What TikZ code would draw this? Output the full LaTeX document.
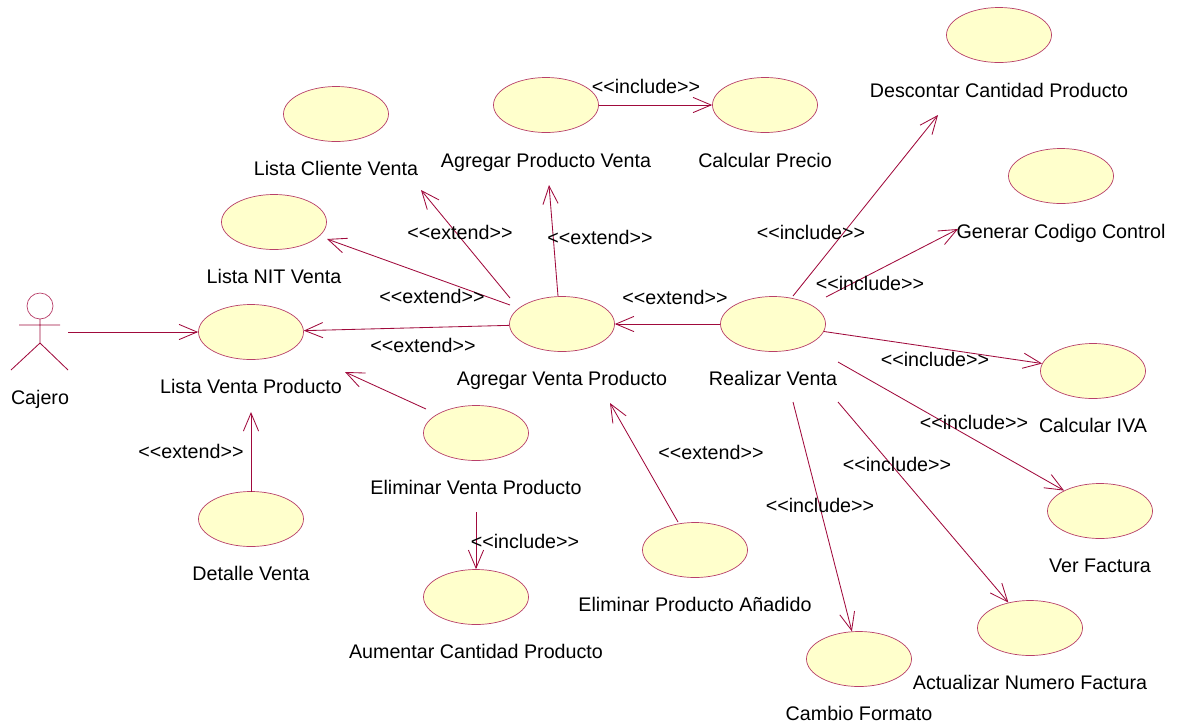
\documentclass[tikz,border=0pt]{standalone}
\usepackage{fontspec}
\setmainfont{Liberation Sans}
\usetikzlibrary{shapes.geometric, arrows.meta}
\definecolor{trait}{HTML}{A00A3C}
\definecolor{bord}{HTML}{B8406A}
\definecolor{fond}{HTML}{FFFFCC}
\newcommand{\stereo}[1]{<{}<#1>{}>}
\tikzset{
  caso/.style={ellipse,draw=bord,fill=fond,line width=0.5pt,inner sep=0pt,
      minimum width=2.625cm,minimum height=1.375cm},
  rotulo/.style={inner sep=0pt,text height=10pt,text depth=0pt,
      font=\fontsize{14}{16}\selectfont},
  enlace/.style={trait,line width=0.6pt,
      -{Straight Barb[length=0.45cm,width=0.38cm,line width=0.6pt]}}
}

\begin{document}
\begin{tikzpicture}[x=0.025cm,y=-0.025cm]
  \useasboundingbox (0,0) rectangle (1180,726);
  % El actor
  \draw[bord,line width=0.5pt] (40,306) circle [radius=13];
  \draw[trait,line width=0.6pt]
      (19,325) -- (60,325)
      (40,319) -- (40,343)
      (11,370) -- (40,343) -- (68,370);
  \coordinate (cajeromano) at (68,332);
  \node[rotulo] at (40,397) (cajero) {Cajero};

  % Los casos de uso
  \node[caso] at (251,332) (listaventa) {};
  \node[caso] at (274,222) (listanit) {};
  \node[caso] at (336,114) (listacliente) {};
  \node[caso] at (546,105) (agregarproducto) {};
  \node[caso] at (765,105) (calcularprecio) {};
  \node[caso] at (999,35) (descontar) {};
  \node[caso] at (1061,176) (generar) {};
  \node[caso] at (562,324) (agregarventa) {};
  \node[caso] at (773,324) (realizar) {};
  \node[caso] at (1093,371) (calculariva) {};
  \node[caso] at (1100,511) (verfactura) {};
  \node[caso] at (1030,628) (actualizar) {};
  \node[caso] at (859,659) (cambio) {};
  \node[caso] at (476,433) (eliminarventa) {};
  \node[caso] at (695,550) (eliminarproducto) {};
  \node[caso] at (476,597) (aumentar) {};
  \node[caso] at (251,519) (detalle) {};

  % Sus nombres
  \node[rotulo] at (251,386) (tlistaventa) {Lista Venta Producto};
  \node[rotulo] at (274,276) (tlistanit) {Lista NIT Venta};
  \node[rotulo] at (336,168) (tlistacliente) {Lista Cliente Venta};
  \node[rotulo] at (546,160) (tagregarproducto) {Agregar Producto Venta};
  \node[rotulo] at (765,160) (tcalcularprecio) {Calcular Precio};
  \node[rotulo] at (999,90) (tdescontar) {Descontar Cantidad Producto};
  \node[rotulo] at (1061,231) (tgenerar) {Generar Codigo Control};
  \node[rotulo] at (562,378) (tagregarventa) {Agregar Venta Producto};
  \node[rotulo] at (773,378) (trealizar) {Realizar Venta};
  \node[rotulo] at (1093,425) (tcalculariva) {Calcular IVA};
  \node[rotulo] at (1100,565) (tverfactura) {Ver Factura};
  \node[rotulo] at (1030,682) (tactualizar) {Actualizar Numero Factura};
  \node[rotulo] at (859,713) (tcambio) {Cambio Formato};
  \node[rotulo] at (476,487) (teliminarventa) {Eliminar Venta Producto};
  \node[rotulo] at (695,604) (teliminarproducto) {Eliminar Producto Añadido};
  \node[rotulo] at (476,651) (taumentar) {Aumentar Cantidad Producto};
  \node[rotulo] at (251,573) (tdetalle) {Detalle Venta};

  % Los extremos libres
  \coordinate (a1) at (510,298);
  \coordinate (a2) at (421,190);
  \coordinate (a3) at (558,296);
  \coordinate (a4) at (549,185);
  \coordinate (a5) at (510,305);
  \coordinate (a6) at (327,239);
  \coordinate (r1) at (793,296);
  \coordinate (r2) at (938,115);
  \coordinate (r3) at (826,297);
  \coordinate (r4) at (958,229);
  \coordinate (r5) at (838,362);
  \coordinate (r6) at (838,402);
  \coordinate (r7) at (793,402);
  \coordinate (e1) at (426,409);
  \coordinate (e2) at (345,372);
  \coordinate (e3) at (678,522);
  \coordinate (e4) at (610,403);
  \coordinate (d1) at (251,492);
  \coordinate (d2) at (251,412);
  \coordinate (e5) at (476,512);

  % Los enlaces
  \draw[enlace] (cajeromano) -- (listaventa.west);
  \draw[enlace] (agregarventa) -- (listaventa);
  \draw[enlace] (a5) -- (a6);
  \draw[enlace] (a1) -- (a2);
  \draw[enlace] (a3) -- (a4);
  \draw[enlace] (agregarproducto) -- (calcularprecio);
  \draw[enlace] (realizar) -- (agregarventa);
  \draw[enlace] (r1) -- (r2);
  \draw[enlace] (r3) -- (r4);
  \draw[enlace] (realizar) -- (calculariva);
  \draw[enlace] (r5) -- (verfactura);
  \draw[enlace] (r6) -- (actualizar);
  \draw[enlace] (r7) -- (cambio);
  \draw[enlace] (e1) -- (e2);
  \draw[enlace] (e3) -- (e4);
  \draw[enlace] (d1) -- (d2);
  \draw[enlace] (e5) -- (aumentar);

  % Los estereotipos
  \node[rotulo] at (460,232) (ext1) {\stereo{extend}};
  \node[rotulo] at (600,237) (ext2) {\stereo{extend}};
  \node[rotulo] at (432,296) (ext3) {\stereo{extend}};
  \node[rotulo] at (423,345) (ext4) {\stereo{extend}};
  \node[rotulo] at (675,297) (ext5) {\stereo{extend}};
  \node[rotulo] at (711,452) (ext6) {\stereo{extend}};
  \node[rotulo] at (191,451) (ext7) {\stereo{extend}};
  \node[rotulo] at (646,86) (inc1) {\stereo{include}};
  \node[rotulo] at (811,232) (inc2) {\stereo{include}};
  \node[rotulo] at (870,283) (inc3) {\stereo{include}};
  \node[rotulo] at (935,359) (inc4) {\stereo{include}};
  \node[rotulo] at (974,422) (inc5) {\stereo{include}};
  \node[rotulo] at (897,464) (inc6) {\stereo{include}};
  \node[rotulo] at (820,505) (inc7) {\stereo{include}};
  \node[rotulo] at (525,541) (inc8) {\stereo{include}};
\end{tikzpicture}
\end{document}
